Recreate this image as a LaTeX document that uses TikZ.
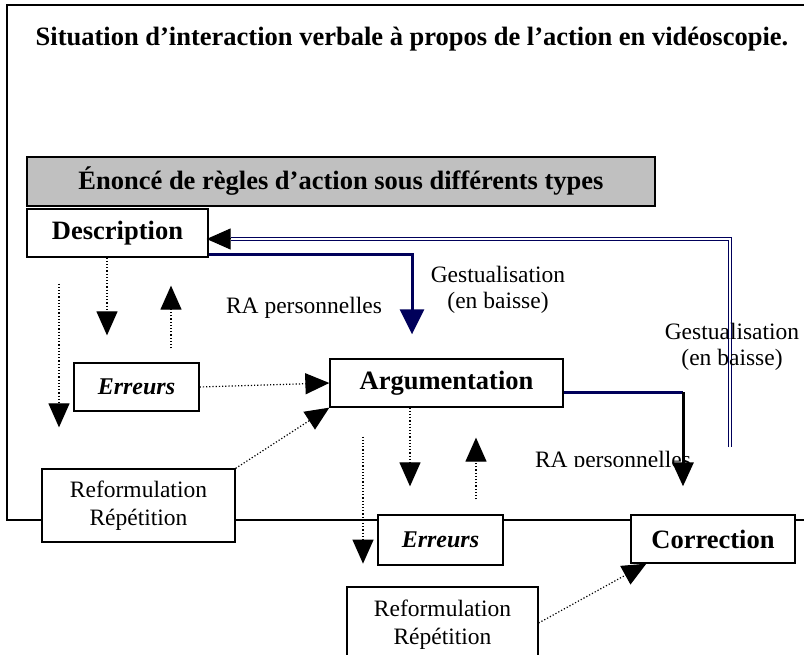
\documentclass[tikz,border=0pt]{standalone}
\usepackage{fontspec}
\setmainfont{Liberation Serif}
\usepackage{tikz}
\usetikzlibrary{arrows.meta, positioning, calc}
\definecolor{navyline}{RGB}{0, 0, 90}
\definecolor{boxgray}{RGB}{192, 192, 192}

\begin{document}
\begin{tikzpicture}[
        x=1pt, y=-1pt,
        box/.style={rectangle, draw, line width=1.3pt, fill=white, align=center, inner sep=0pt},
        boldbox/.style={box, font=\fontsize{26.5}{30}\selectfont\bfseries},
        textbox/.style={box, font=\fontsize{23.5}{28}\selectfont},
        lbl/.style={align=center, font=\fontsize{23.5}{25.5}\selectfont},
        tip/.style={-{Triangle[length=24pt, width=21pt]}},
        dotarrow/.style={tip, dotted, line width=1.2pt},
        dbl/.style={navyline, double=white, double distance=2pt, line width=1pt},
        thickarrow/.style={line width=3pt}
    ]
        \clip (0,0) rectangle (804,655);
        % cadre
        \draw[line width=1.3pt] (804,5) -| (7,520) -- (804,520);
        \node[font=\fontsize{26.5}{30}\selectfont\bfseries] (titre) at (412,39) {Situation d’interaction verbale à propos de l’action en vidéoscopie.};
        \node[boldbox, fill=boxgray, minimum width=628pt, minimum height=49pt] (enonce) at (341,181.5) {Énoncé de règles d’action sous différents types};
        % boites
        \node[boldbox, minimum width=181pt, minimum height=48pt] (desc) at (117.5,233) {Description};
        \node[boldbox, minimum width=233pt, minimum height=48pt] (argu) at (446.5,383) {Argumentation};
        \node[boldbox, font=\fontsize{24}{28}\selectfont\bfseries\itshape, minimum width=125pt, minimum height=48pt] (err1) at (136.5,387) {Erreurs};
        \node[textbox, minimum width=193pt, minimum height=73pt] (ref1) at (138.5,505.5) {Reformulation\\Répétition};
        \node[boldbox, font=\fontsize{24}{28}\selectfont\bfseries\itshape, minimum width=125pt, minimum height=50pt] (err2) at (440.5,540) {Erreurs};
        \node[boldbox, minimum width=164pt, minimum height=48pt] (corr) at (713,539) {Correction};
        \node[textbox, minimum width=191pt, minimum height=76pt] (ref2) at (442.5,625) {Reformulation\\Répétition};
        % etiquettes
        \node[lbl] (ra1) at (304,308) {RA personnelles};
        \node[lbl] (gest1) at (498,290) {Gestualisation\\(en baisse)};
        \begin{scope}
            \clip (500,430) rectangle (720,466);
            \node[lbl, anchor=base] (ra2) at (613,467) {RA personnelles};
        \end{scope}
        % retour double
        \coordinate (gbas) at (730,447);
        \draw[dbl] (gbas) |- ([xshift=22pt,yshift=-6pt]desc.east);
        \draw[tip, line width=1pt] ([xshift=22pt,yshift=-6pt]desc.east) -- ([xshift=-2pt,yshift=-6pt]desc.east);
        \node[lbl] (gest2) at (732,347) {Gestualisation\\(en baisse)};
        % fleches pleines
        \coordinate (t1) at ([xshift=-34.5pt,yshift=24pt]argu.north);
        \draw[thickarrow, navyline, -{Triangle[length=25pt, width=24pt]}] ([yshift=3pt]desc.south east) -| (t1);
        \coordinate (c2) at (683,392);
        \draw[thickarrow, navyline] ([yshift=-9pt]argu.east) -- (c2);
        \draw[thickarrow, tip] (c2) -- ([xshift=-30pt,yshift=28pt]corr.north);
        % fleches pointillees
        \draw[dotarrow] ([xshift=-10.5pt]desc.south) -- ([xshift=-29.5pt,yshift=27pt]err1.north);
        \draw[dotarrow] ([xshift=34.5pt,yshift=14pt]err1.north) -- ([xshift=53.5pt,yshift=-28pt]desc.south);
        \draw[dotarrow] ([xshift=-58.5pt,yshift=-26pt]desc.south) -- ([xshift=-79.5pt,yshift=41pt]ref1.north);
        \draw[dotarrow] (err1.east) -- (argu.west);
        \draw[dotarrow] (ref1.north east) -- (argu.south west);
        \draw[dotarrow] ([xshift=-36.5pt]argu.south) -- ([xshift=-30.5pt,yshift=28pt]err2.north);
        \draw[dotarrow] ([xshift=35.5pt,yshift=15pt]err2.north) -- ([xshift=29.5pt,yshift=-30pt]argu.south);
        \draw[dotarrow] ([xshift=-83.5pt,yshift=-29pt]argu.south) -- ([xshift=-77.5pt,yshift=2pt]err2.south);
        \draw[dotarrow] ([yshift=2pt]ref2.east) -- ([xshift=16pt]corr.south west);
    \end{tikzpicture}
\end{document}
